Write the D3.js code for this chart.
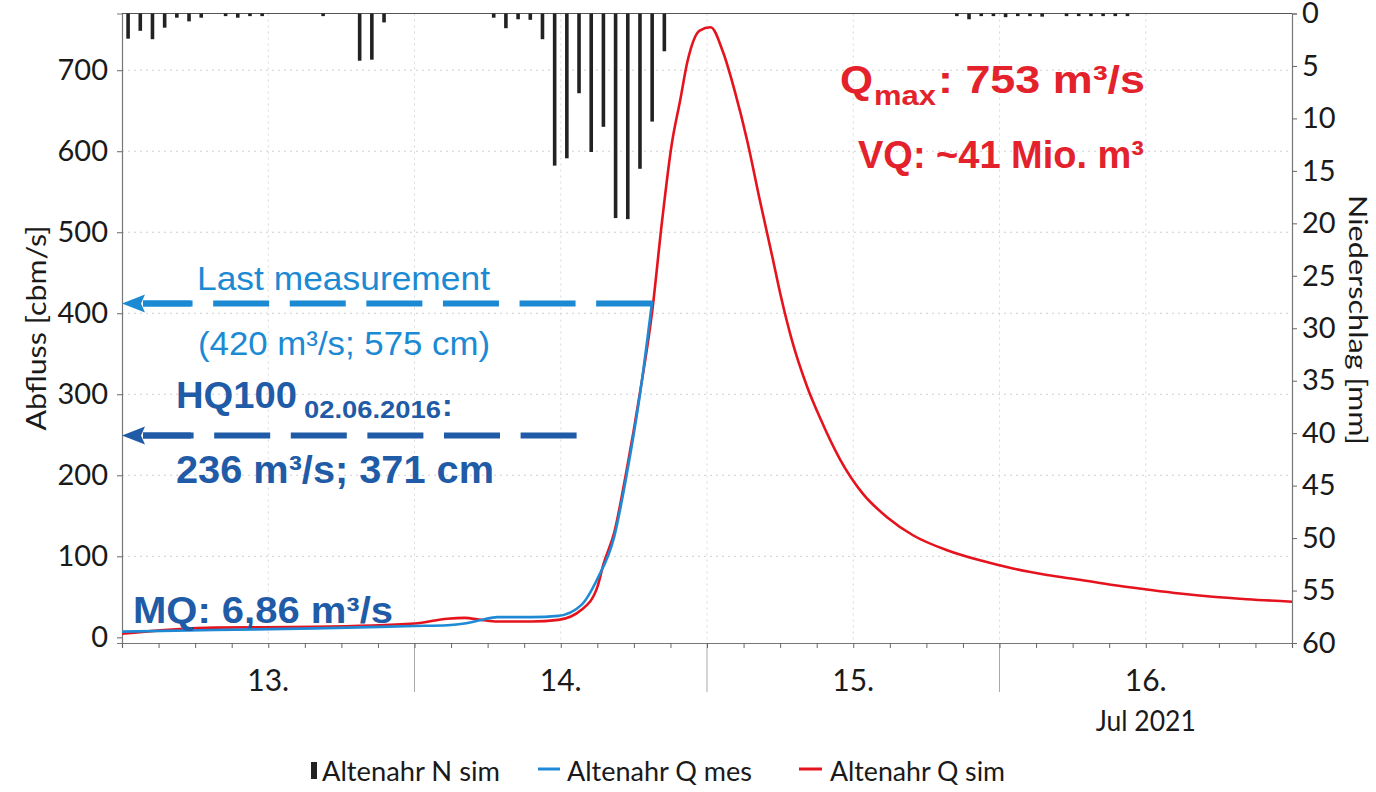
<!DOCTYPE html>
<html><head><meta charset="utf-8">
<script src="https://cdn.jsdelivr.net/npm/d3@7"></script>
<style>
html,body{margin:0;padding:0;background:#fff;}
svg{display:block;}
</style></head>
<body>
<svg id="chart" width="1376" height="792"></svg>
<script>
// ---------- DATA ----------
// hours since 13 Jul 2021 00:00
const rainHours  = [0,1,2,3,4,5,6,8,9,10,11,16,19,20,21,30,31,32,33,34,35,36,37,38,39,40,41,42,43,44,68,69,70,71,72,73,74,75,77,78,79,80,81,82];
const rainMm     = [2.4,1.65,2.45,1.35,0.4,0.75,0.4,0.25,0.4,0.25,0.25,0.25,4.5,4.4,0.85,0.4,1.4,0.55,0.6,2.45,14.5,13.8,7.6,13.2,10.8,19.5,19.6,14.8,10.3,3.6,0.25,0.55,0.25,0.25,0.35,0.25,0.25,0.3,0.25,0.25,0.25,0.25,0.25,0.25];

const qSimHours  = [0,7.6,15.8,24.0,26.7,28.1,29.5,30.8,33.6,35.8,37.7,39.0,39.5,40.4,41.4,42.5,43.5,44.3,45.1,45.8,46.4,47.4,48.3,49.3,50.3,51.3,52.3,53.4,54.0,55.0,56.2,57.3,58.9,60.8,62.8,64.9,67.7,70.4,73.1,75.9,78.6,81.3,84.1,86.8,89.5,92.3,96.0];
const qSimValues = [4.5,12,13,17,23,24,21.5,19.6,19.6,21.5,34,62,90,130,206,302,402,512,608,663,711,749,753,723,673,613,542,467,425,365,310,270,220,177,148,126,107.5,95,85,77,71,64.6,59,54,50,47,44];

const qMesHours  = [0,7.6,15.8,24.0,26.7,28.1,29.5,30.8,33.6,35.8,37.7,39.0,40.4,41.4,42.5,43.5];
const qMesValues = [7,9,11,14,15,17,21.5,25,25,26.5,40,72,125,200,300,415];

const qTicks     = [0,100,200,300,400,500,600,700];
const nTicks     = [0,5,10,15,20,25,30,35,40,45,50,55,60];
const dayLabels  = ["13.","14.","15.","16."];
const dayNoonHours = [12,36,60,84];
const dayBreakHours = [24,48,72];
const monthLabel = "Jul 2021";

// annotation arrows: level (m³/s) and hour where the dashed line ends
const arrowLevels = [412, 249];
const arrowEndHours = [43.5, 37.3];

const legendLabels = ["Altenahr N sim","Altenahr Q mes","Altenahr Q sim"];

// ---------- SETUP ----------
const START = Date.UTC(2021,6,13);
const hour = h => new Date(START + h*3600e3);
const svg = d3.select("#chart");
const L = 122, R = 1292, T = 13.5, B = 643;

const x = d3.scaleUtc().domain([hour(0), hour(96)]).range([L, R]);
const yQ = d3.scaleLinear().domain([-7, 770]).range([B, T]);
const yN = d3.scaleLinear().domain([0, 60]).range([T, B]);

const RED = "#e5131d", BLUE = "#1e8ad6", LBLUE = "#1b8ad3", DBLUE = "#1f5ba6", TRED = "#e3222c";
const AXFONT = "Lato, 'Noto Sans', sans-serif";
const ANFONT = "'Liberation Sans', Arial, sans-serif";

// ---------- GRID ----------
const grid = svg.append("g");
grid.selectAll("line.h").data(qTicks.slice(1)).join("line")
  .attr("x1", L).attr("x2", R).attr("y1", d=>yQ(d)).attr("y2", d=>yQ(d))
  .attr("stroke", "#cfcfcf").attr("stroke-dasharray", "2,4");
grid.selectAll("line.v").data(d3.range(12, 96, 12)).join("line")
  .attr("x1", d=>x(hour(d))).attr("x2", d=>x(hour(d)))
  .attr("y1", T).attr("y2", B)
  .attr("stroke", "#d8d8d8").attr("stroke-dasharray", "2,4");

// day separators below axis
svg.append("g").selectAll("line").data(dayBreakHours).join("line")
  .attr("x1", d=>x(hour(d))).attr("x2", d=>x(hour(d)))
  .attr("y1", B).attr("y2", 692).attr("stroke", "#aaa").attr("stroke-width", 1);

// ---------- AXES ----------
const axL = svg.append("g").attr("transform", `translate(${L},0)`)
  .call(d3.axisLeft(yQ).tickValues(qTicks).tickSize(5).tickPadding(9));
const axR = svg.append("g").attr("transform", `translate(${R},0)`)
  .call(d3.axisRight(yN).tickValues(nTicks).tickSize(5).tickPadding(5));
const axB = svg.append("g").attr("transform", `translate(0,${B})`)
  .call(d3.axisBottom(x).ticks(d3.utcHour.every(3)).tickSize(5).tickFormat(""));
[axL, axR, axB].forEach(a => {
  a.select(".domain").attr("stroke", "#777").attr("stroke-width", 1.2);
  a.selectAll(".tick line").attr("stroke", "#666");
  a.selectAll("text").attr("font-family", AXFONT).attr("font-size", 29).attr("fill", "#1a1a1a");
});
// top frame line
svg.append("line").attr("x1", L).attr("x2", R).attr("y1", T).attr("y2", T)
  .attr("stroke", "#555").attr("stroke-width", 1.2);

// day labels
svg.append("g").selectAll("text").data(dayLabels).join("text")
  .attr("x", (d,i)=>x(hour(dayNoonHours[i])))
  .attr("y", 691).attr("text-anchor", "middle")
  .attr("font-family", AXFONT).attr("font-size", 30).attr("fill", "#1a1a1a")
  .text(d=>d);
svg.append("text").attr("x", x(hour(dayNoonHours[3]))).attr("y", 731)
  .attr("text-anchor", "middle").attr("font-family", AXFONT).attr("font-size", 28)
  .attr("fill", "#1a1a1a").attr("textLength", 100).attr("lengthAdjust", "spacingAndGlyphs")
  .text(monthLabel);

// axis titles
svg.append("text").attr("transform", "translate(46,328) rotate(-90)")
  .attr("text-anchor", "middle").attr("font-family", AXFONT).attr("font-size", 26)
  .attr("fill", "#1a1a1a").attr("textLength", 205).attr("lengthAdjust", "spacingAndGlyphs")
  .text("Abfluss [cbm/s]");
svg.append("text").attr("transform", "translate(1349,320) rotate(90)")
  .attr("text-anchor", "middle").attr("font-family", AXFONT).attr("font-size", 25)
  .attr("fill", "#1a1a1a").attr("textLength", 250).attr("lengthAdjust", "spacingAndGlyphs")
  .text("Niederschlag [mm]");

// ---------- RAIN BARS ----------
const rain = rainHours.map((h,i)=>({h, v: rainMm[i]}));
svg.append("g").selectAll("rect").data(rain).join("rect")
  .attr("x", d=>x(hour(d.h + 0.5)) - 1.8).attr("width", 3.6)
  .attr("y", yN(0)).attr("height", d=>yN(d.v) - yN(0))
  .attr("fill", "#222");

// ---------- Q LINES ----------
const line = d3.line().x(d=>x(hour(d[0]))).y(d=>yQ(d[1])).curve(d3.curveMonotoneX);
const sim = qSimHours.map((h,i)=>[h, qSimValues[i]]);
const mes = qMesHours.map((h,i)=>[h, qMesValues[i]]);
svg.append("path").attr("d", line(sim)).attr("fill", "none").attr("stroke", RED).attr("stroke-width", 2.6);
svg.append("path").attr("d", line(mes)).attr("fill", "none").attr("stroke", BLUE).attr("stroke-width", 2.6);

// ---------- ARROWS ----------
const arrowColors = [LBLUE, DBLUE];
arrowLevels.forEach((lv, i) => {
  const yy = yQ(lv), xe = x(hour(arrowEndHours[i])), xt = L, xb = L + 21;
  svg.append("line").attr("x1", xe).attr("x2", xb).attr("y1", yy).attr("y2", yy)
    .attr("stroke", arrowColors[i]).attr("stroke-width", 6).attr("stroke-dasharray", "56 20.6");
  svg.append("line").attr("x1", xb).attr("x2", xb + 48).attr("y1", yy).attr("y2", yy)
    .attr("stroke", arrowColors[i]).attr("stroke-width", 6);
  svg.append("path")
    .attr("d", `M${xt},${yy} L${xb+2},${yy-9} L${xb-2},${yy} L${xb+2},${yy+9} Z`)
    .attr("fill", arrowColors[i]);
});

// ---------- ANNOTATIONS ----------
function txt(s, xx, yy, size, color, weight, len) {
  const t = svg.append("text").attr("x", xx).attr("y", yy)
    .attr("font-family", ANFONT).attr("font-size", size).attr("fill", color)
    .attr("font-weight", weight).text(s);
  if (len) t.attr("textLength", len).attr("lengthAdjust", "spacingAndGlyphs");
  return t;
}
txt("Last measurement", 197, 290, 34, LBLUE, "normal", 293);
txt("(420 m³/s; 575 cm)", 198, 355, 34, LBLUE, "normal", 292);
txt("HQ100", 176, 408, 36, DBLUE, "bold", 121);
txt("02.06.2016", 304, 418, 24, DBLUE, "bold", 137);
txt(":", 442, 416, 32, DBLUE, "bold");
txt("236 m³/s; 371 cm", 176, 483, 39, DBLUE, "bold", 318);
txt("MQ: 6,86 m³/s", 133, 623, 37, DBLUE, "bold", 260);
txt("Q", 840, 93, 39, TRED, "bold", 33);
txt("max", 874, 105, 28, TRED, "bold", 62);
txt(": 753 m³/s", 938, 93, 39, TRED, "bold", 207);
txt("VQ: ~41 Mio. m³", 858, 168, 39, TRED, "bold", 286);

// ---------- LEGEND ----------
const lg = svg.append("g");
lg.append("rect").attr("x", 311).attr("y", 762).attr("width", 6).attr("height", 17).attr("fill", "#222");
lg.append("line").attr("x1", 538).attr("x2", 560).attr("y1", 769).attr("y2", 769).attr("stroke", BLUE).attr("stroke-width", 3);
lg.append("line").attr("x1", 799).attr("x2", 822).attr("y1", 769).attr("y2", 769).attr("stroke", RED).attr("stroke-width", 3);
const legX = [322, 567, 830], legW = [178, 185, 175];
lg.selectAll("text").data(legendLabels).join("text")
  .attr("x", (d,i)=>legX[i]).attr("y", 781)
  .attr("font-family", AXFONT).attr("font-size", 26).attr("fill", "#1a1a1a")
  .attr("textLength", (d,i)=>legW[i]).attr("lengthAdjust", "spacingAndGlyphs")
  .text(d=>d);
</script>
</body></html>
